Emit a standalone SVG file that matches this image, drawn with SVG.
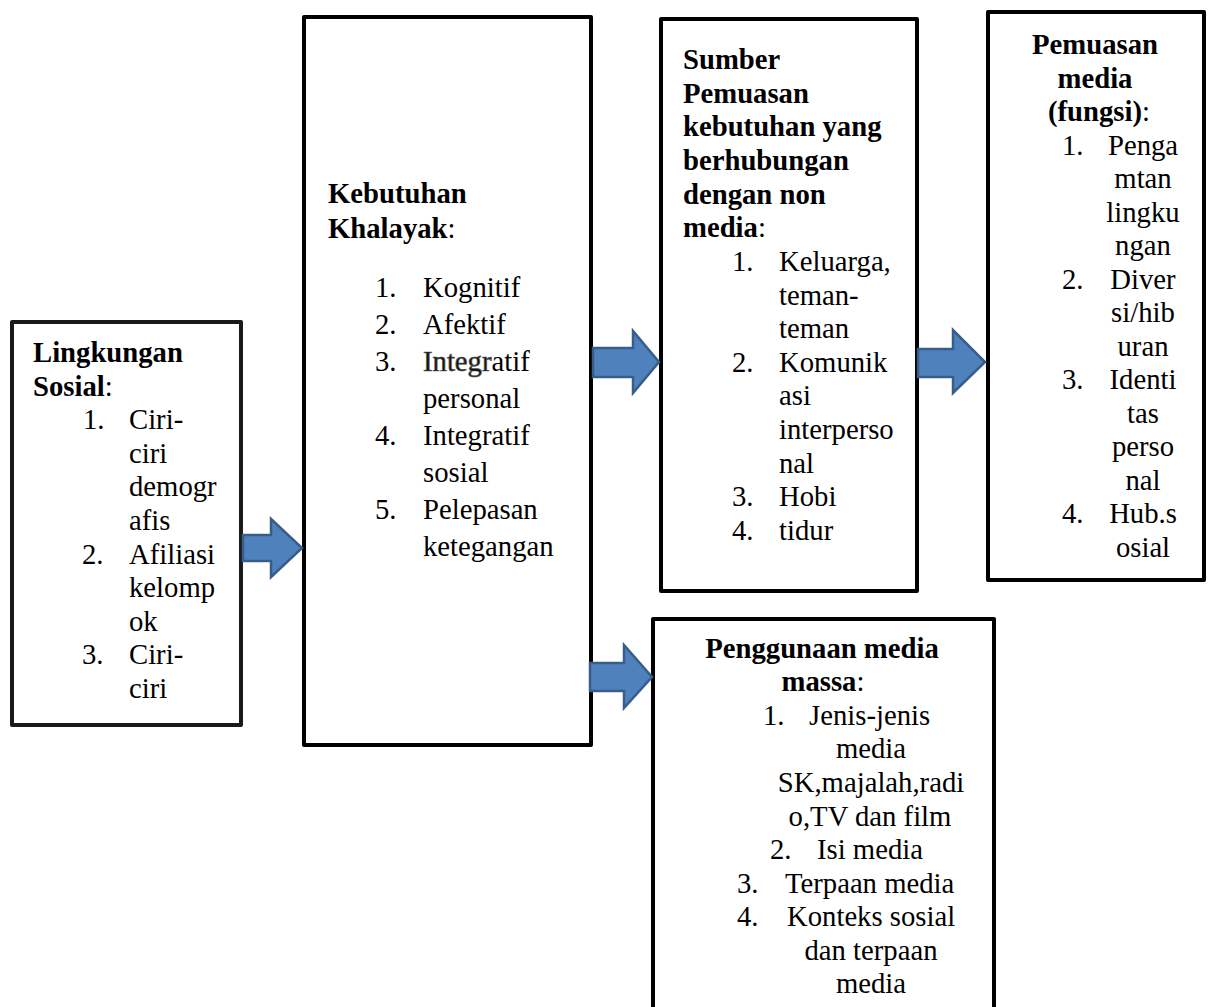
<svg xmlns="http://www.w3.org/2000/svg" width="1210" height="1007" viewBox="0 0 1210 1007">
<style>
.box{fill:#fff;stroke:#000;stroke-width:4;stroke-linejoin:round}
.arrow{fill:#4F81BD;stroke:#385D8A;stroke-width:2.5;stroke-linejoin:miter}
text{font-family:"Liberation Serif","Times New Roman",serif;font-size:28.7px;fill:#000}
.b{font-weight:bold}
.m{text-anchor:middle}
</style>
<rect width="1210" height="1007" fill="#fff"/>
<g id="n1">
<rect class="box" x="12" y="322" width="229" height="403" style="stroke:#1a1a1a"/>
<text x="33" y="362"><tspan class="b">Lingkungan</tspan></text>
<text x="33" y="395.6"><tspan class="b">Sosial</tspan>:</text>
<text x="83" y="429">1.</text><text x="129" y="429">Ciri-</text>
<text x="129" y="463">ciri</text>
<text x="129" y="496">demogr</text>
<text x="129" y="530">afis</text>
<text x="82" y="564">2.</text><text x="129" y="564">Afiliasi</text>
<text x="129" y="597">kelomp</text>
<text x="129" y="631">ok</text>
<text x="82" y="664">3.</text><text x="129" y="664">Ciri-</text>
<text x="129" y="698">ciri</text>
</g>
<g id="n2">
<rect class="box" x="304" y="17" width="287" height="728"/>
<text x="328" y="203" class="b">Kebutuhan</text>
<text x="328" y="238"><tspan class="b">Khalayak</tspan>:</text>
<text x="375" y="297">1.</text><text x="423" y="297">Kognitif</text>
<text x="375" y="334">2.</text><text x="423" y="334">Afektif</text>
<text x="375" y="371">3.</text><text x="423" y="371"><tspan style="fill:#111;stroke:#555;stroke-width:0.7">Integr</tspan>atif</text>
<text x="423" y="408">personal</text>
<text x="375" y="445">4.</text><text x="423" y="445">Integratif</text>
<text x="423" y="482">sosial</text>
<text x="375" y="519">5.</text><text x="423" y="519">Pelepasan</text>
<text x="423" y="556">ketegangan</text>
</g>
<g id="n3">
<rect class="box" x="661" y="19" width="256" height="572"/>
<text x="683" y="69" class="b">Sumber</text>
<text x="683" y="102.6" class="b">Pemuasan</text>
<text x="683" y="136.3" class="b">kebutuhan yang</text>
<text x="683" y="169.9" class="b">berhubungan</text>
<text x="683" y="203.6" class="b">dengan non</text>
<text x="683" y="237.2"><tspan class="b">media</tspan>:</text>
<text x="732" y="270.8">1.</text><text x="779" y="270.8">Keluarga,</text>
<text x="779" y="304.5">teman-</text>
<text x="779" y="338.1">teman</text>
<text x="732" y="371.8">2.</text><text x="779" y="371.8">Komunik</text>
<text x="779" y="405.4">asi</text>
<text x="779" y="439">interperso</text>
<text x="779" y="472.7">nal</text>
<text x="732" y="506.3">3.</text><text x="779" y="506.3">Hobi</text>
<text x="732" y="540">4.</text><text x="779" y="540">tidur</text>
</g>
<g id="n4">
<rect class="box" x="988" y="12" width="216" height="568"/>
<text x="1095" y="54" class="b m">Pemuasan</text>
<text x="1095" y="87.5" class="b m">media</text>
<text x="1099" y="121" class="m"><tspan class="b">(fungsi)</tspan>:</text>
<text x="1062" y="154.5">1.</text><text x="1143" y="154.5" class="m">Penga</text>
<text x="1143" y="188" class="m">mtan</text>
<text x="1143" y="221.5" class="m">lingku</text>
<text x="1143" y="255" class="m">ngan</text>
<text x="1062" y="288.5">2.</text><text x="1143" y="288.5" class="m">Diver</text>
<text x="1143" y="322" class="m">si/hib</text>
<text x="1143" y="355.5" class="m">uran</text>
<text x="1062" y="389">3.</text><text x="1143" y="389" class="m">Identi</text>
<text x="1143" y="422.5" class="m">tas</text>
<text x="1143" y="456" class="m">perso</text>
<text x="1143" y="489.5" class="m">nal</text>
<text x="1062" y="523">4.</text><text x="1143" y="523" class="m">Hub.s</text>
<text x="1143" y="556.5" class="m">osial</text>
</g>
<g id="n5">
<rect class="box" x="653" y="619" width="341" height="420"/>
<text x="822" y="658" class="b m">Penggunaan media</text>
<text x="823" y="691" class="m"><tspan class="b">massa</tspan>:</text>
<text x="763" y="725">1.</text><text x="809" y="725">Jenis-jenis</text>
<text x="871" y="758" class="m">media</text>
<text x="871" y="792" class="m">SK,majalah,radi</text>
<text x="870" y="826" class="m">o,TV dan film</text>
<text x="770" y="859">2.</text><text x="817" y="859">Isi media</text>
<text x="737" y="893">3.</text><text x="785" y="893">Terpaan media</text>
<text x="737" y="926">4.</text><text x="787" y="926">Konteks sosial</text>
<text x="871" y="960" class="m">dan terpaan</text>
<text x="871" y="993" class="m">media</text>
</g>
<g id="connectors">
<path class="arrow" d="M243,535 H271 V519 L302,548 L271,577 V561 H243 Z"/>
<path class="arrow" d="M593,348 H633 V331 L659,362 L633,393 V377 H593 Z"/>
<path class="arrow" d="M918,349 H953 V330 L985,362 L953,393 V377 H918 Z"/>
<path class="arrow" d="M590,663 H624 V645 L652,677 L624,708 V691 H590 Z"/>
</g>
</svg>
